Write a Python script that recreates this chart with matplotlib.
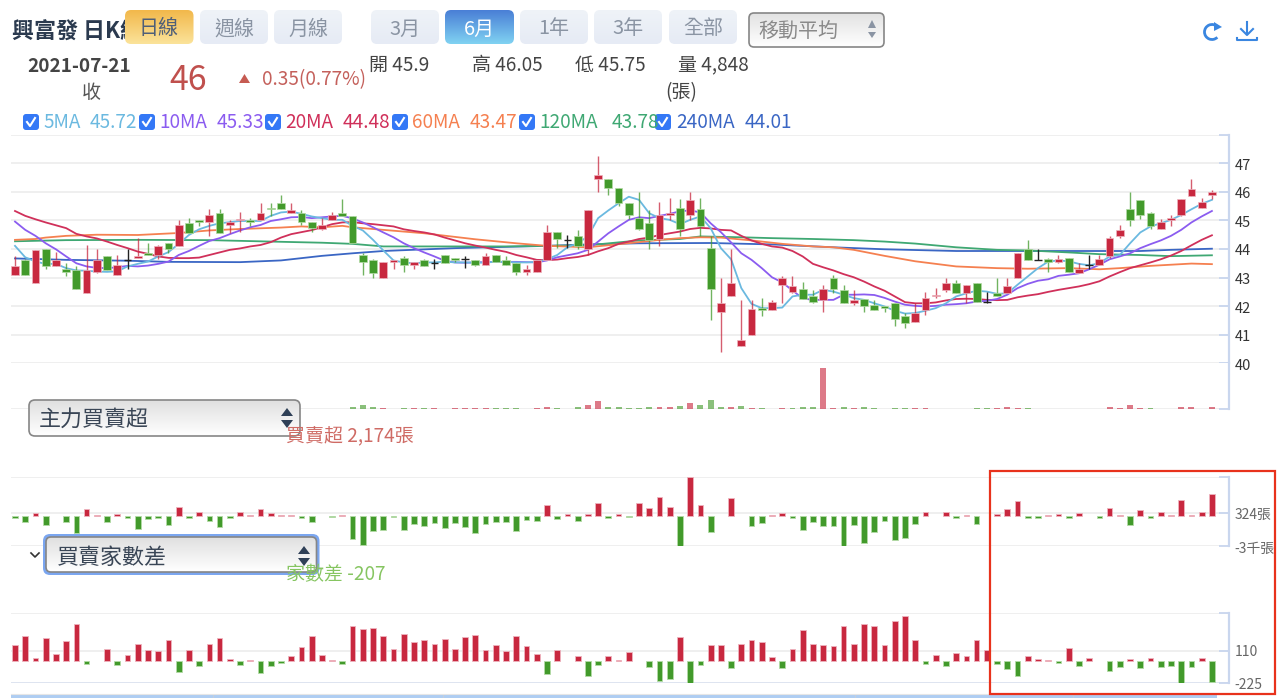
import numpy as np
import matplotlib
matplotlib.use('Agg')
import matplotlib.pyplot as plt
from matplotlib.colors import LinearSegmentedColormap
from matplotlib.patches import FancyBboxPatch, Polygon, Rectangle, Arc
from matplotlib.transforms import ScaledTranslation

plt.rcParams['font.family'] = ['Noto Sans CJK TC', 'DejaVu Sans']

# daily prices, one entry per trading day
opens = [43.1, 43.6, 42.8, 44.0, 43.4, 43.3, 43.25, 42.45, 43.2, 43.75,
         43.1, 43.6, 43.7, 43.85, 43.8, 44.2, 44.1, 44.9, 45.0, 44.95,
         45.25, 44.85, 45.0, 45.0, 45.0, 45.45, 45.6, 45.25, 45.25, 44.95,
         44.7, 45.0, 45.25, 45.15, 43.8, 43.6, 43.0, 43.55, 43.7, 43.45,
         43.6, 43.5, 43.8, 43.7, 43.65, 43.6, 43.45, 43.8, 43.6, 43.5,
         43.2, 43.2, 43.6, 44.6, 44.3, 44.45, 44.0, 46.45, 46.45, 46.15,
         45.6, 45.1, 44.9, 44.35, 45.2, 45.45, 45.2, 45.4, 44.05, 41.8,
         42.35, 40.6, 41.0, 41.95, 41.85, 42.75, 42.5, 42.6, 42.35, 42.2,
         43.0, 42.55, 42.1, 42.25, 42.05, 42.0, 42.1, 41.65, 41.45, 41.85,
         42.35, 42.55, 42.8, 42.45, 42.8, 42.15, 42.45, 42.45, 43.0, 44.0,
         43.6, 43.65, 43.55, 43.7, 43.15, 43.45, 43.45, 43.75, 44.45, 45.4,
         45.7, 45.25, 44.7, 45.0, 45.2, 45.85, 45.45, 45.9]
highs = [43.75, 43.65, 43.95, 44.0, 43.9, 43.5, 43.4, 44.15, 44.0, 43.75,
         43.8, 44.0, 44.4, 44.2, 44.15, 44.2, 45.0, 45.1, 45.0, 45.4,
         45.4, 45.0, 45.3, 45.1, 45.6, 45.6, 45.9, 45.6, 45.35, 44.95,
         45.1, 45.3, 45.75, 45.15, 43.85, 43.65, 43.55, 43.6, 43.75, 43.55,
         43.65, 43.65, 43.8, 43.7, 43.75, 43.6, 43.85, 43.8, 43.75, 43.5,
         43.45, 43.6, 44.85, 44.6, 44.5, 44.65, 45.35, 47.25, 46.45, 46.15,
         45.6, 46.0, 45.35, 45.65, 45.8, 45.75, 46.0, 45.8, 44.45, 43.0,
         44.0, 42.2, 42.2, 42.3, 42.2, 43.05, 43.05, 42.85, 42.55, 42.75,
         43.1, 42.75, 42.55, 42.25, 42.2, 42.0, 42.1, 41.75, 42.1, 42.5,
         42.65, 43.0, 42.9, 42.75, 42.8, 42.5, 43.0, 43.0, 43.85, 44.3,
         44.0, 43.7, 43.8, 43.7, 43.5, 43.8, 43.8, 44.45, 44.85, 46.0,
         45.7, 45.3, 45.05, 45.2, 45.75, 46.45, 45.8, 46.05]
lows = [43.1, 43.1, 42.8, 43.3, 43.4, 43.05, 42.6, 42.45, 43.15, 43.25,
        43.1, 43.3, 43.7, 43.8, 43.65, 43.85, 44.1, 44.55, 44.8, 44.45,
        44.55, 44.55, 44.6, 44.8, 45.0, 45.15, 45.4, 45.25, 44.85, 44.6,
        44.65, 45.0, 45.15, 44.2, 43.1, 43.0, 43.0, 43.3, 43.2, 43.3,
        43.4, 43.3, 43.5, 43.55, 43.35, 43.4, 43.45, 43.55, 43.45, 43.1,
        43.1, 43.2, 43.6, 44.05, 44.05, 44.0, 43.8, 46.0, 45.9, 45.5,
        45.05, 44.65, 44.0, 44.1, 45.0, 44.45, 45.0, 44.45, 41.5, 40.4,
        42.35, 40.6, 41.0, 41.65, 41.85, 42.1, 42.45, 42.25, 42.1, 41.8,
        42.45, 42.1, 42.05, 41.8, 41.85, 41.8, 41.3, 41.25, 41.45, 41.7,
        42.3, 42.5, 42.45, 42.1, 42.15, 42.1, 42.35, 42.45, 43.0, 43.6,
        43.6, 43.2, 43.5, 43.2, 43.15, 43.3, 43.45, 43.7, 44.4, 44.8,
        45.05, 44.7, 44.7, 44.8, 45.15, 45.85, 45.45, 45.75]
closes = [43.4, 43.1, 43.95, 43.4, 43.6, 43.2, 42.6, 43.25, 43.6, 43.25,
          43.45, 43.6, 43.75, 43.8, 44.1, 44.0, 44.85, 44.55, 44.95, 45.2,
          44.55, 44.95, 45.05, 44.95, 45.25, 45.4, 45.4, 45.35, 44.95, 44.75,
          44.85, 45.2, 45.15, 44.2, 43.55, 43.15, 43.55, 43.6, 43.45, 43.55,
          43.4, 43.5, 43.5, 43.6, 43.65, 43.45, 43.75, 43.55, 43.45, 43.2,
          43.3, 43.6, 44.6, 44.35, 44.3, 44.1, 45.35, 46.6, 46.15, 45.6,
          45.2, 44.7, 44.3, 45.2, 45.25, 44.7, 45.7, 44.8, 42.6, 42.1,
          42.8, 40.8, 41.9, 41.85, 42.15, 43.0, 42.7, 42.25, 42.15, 42.6,
          42.6, 42.1, 42.2, 42.0, 41.85, 41.95, 41.55, 41.4, 41.75, 42.3,
          42.4, 42.8, 42.45, 42.75, 42.15, 42.15, 42.35, 42.7, 43.85, 43.6,
          43.6, 43.55, 43.65, 43.2, 43.3, 43.45, 43.65, 44.4, 44.65, 45.0,
          45.2, 44.8, 44.95, 45.1, 45.75, 46.1, 45.65, 46.0]

ma5 = [44.11, 43.71, 43.56, 43.48, 43.48, 43.33, 43.25, 43.24, 43.21, 43.20,
       43.22, 43.39, 43.48, 43.56, 43.74, 43.89, 44.18, 44.49, 44.69, 44.81,
       44.90, 44.94, 44.98, 44.98, 44.98, 45.16, 45.28, 45.31, 45.23, 45.14,
       45.08, 45.02, 45.02, 44.81, 44.65, 44.32, 43.95, 43.60, 43.53, 43.50,
       43.53, 43.53, 43.56, 43.53, 43.53, 43.52, 43.53, 43.55, 43.55, 43.53,
       43.53, 43.55, 43.64, 43.79, 44.06, 44.20, 44.44, 45.08, 45.35, 45.60,
       45.83, 45.72, 45.25, 45.08, 45.02, 44.87, 45.02, 45.14, 44.73, 44.03,
       43.64, 42.63, 42.08, 41.93, 41.93, 41.95, 42.34, 42.40, 42.40, 42.57,
       42.51, 42.40, 42.28, 42.22, 42.10, 41.99, 41.84, 41.74, 41.76, 41.84,
       41.93, 42.10, 42.34, 42.45, 42.54, 42.51, 42.43, 42.45, 42.75, 43.04,
       43.33, 43.56, 43.60, 43.57, 43.48, 43.43, 43.50, 43.74, 43.79, 44.20,
       44.58, 44.79, 44.90, 45.02, 45.19, 45.39, 45.58, 45.72]
ma10 = [44.96, 44.67, 44.46, 44.20, 43.99, 43.74, 43.50, 43.39, 43.34, 43.33,
        43.36, 43.41, 43.39, 43.42, 43.48, 43.56, 43.79, 43.93, 44.11, 44.28,
        44.38, 44.52, 44.65, 44.76, 44.84, 44.98, 45.04, 45.11, 45.12, 45.08,
        45.11, 45.14, 45.16, 45.07, 44.93, 44.76, 44.58, 44.41, 44.20, 44.03,
        43.88, 43.74, 43.59, 43.53, 43.52, 43.53, 43.54, 43.55, 43.55, 43.55,
        43.54, 43.53, 43.60, 43.71, 43.78, 43.85, 43.97, 44.26, 44.55, 44.79,
        45.02, 45.11, 45.08, 45.16, 45.23, 45.32, 45.35, 45.28, 44.90, 44.59,
        44.23, 43.85, 43.62, 43.33, 43.01, 42.83, 42.55, 42.27, 42.22, 42.22,
        42.22, 42.40, 42.40, 42.41, 42.39, 42.29, 42.16, 42.05, 42.01, 41.99,
        42.01, 42.05, 42.07, 42.10, 42.16, 42.19, 42.25, 42.40, 42.63, 42.78,
        42.89, 42.94, 43.06, 43.10, 43.15, 43.29, 43.45, 43.64, 43.74, 43.85,
        44.03, 44.17, 44.30, 44.46, 44.67, 44.93, 45.14, 45.33]
ma20 = [45.33, 45.16, 45.04, 44.93, 44.83, 44.73, 44.53, 44.44, 44.37, 44.26,
        44.14, 44.03, 43.91, 43.83, 43.74, 43.69, 43.68, 43.68, 43.70, 43.79,
        43.88, 43.97, 44.02, 44.09, 44.14, 44.24, 44.40, 44.52, 44.59, 44.66,
        44.76, 44.87, 44.93, 44.94, 44.90, 44.87, 44.83, 44.79, 44.69, 44.63,
        44.58, 44.51, 44.40, 44.30, 44.20, 44.12, 44.05, 43.97, 43.90, 43.79,
        43.71, 43.62, 43.61, 43.63, 43.68, 43.72, 43.79, 43.92, 44.03, 44.18,
        44.26, 44.35, 44.40, 44.49, 44.55, 44.61, 44.70, 44.74, 44.72, 44.67,
        44.65, 44.46, 44.30, 44.18, 44.09, 44.05, 43.93, 43.74, 43.48, 43.36,
        43.25, 43.12, 43.01, 42.86, 42.69, 42.54, 42.34, 42.14, 42.10, 42.10,
        42.13, 42.20, 42.25, 42.26, 42.25, 42.22, 42.21, 42.22, 42.31, 42.37,
        42.42, 42.50, 42.57, 42.63, 42.69, 42.77, 42.87, 43.04, 43.19, 43.33,
        43.43, 43.53, 43.64, 43.77, 43.93, 44.13, 44.32, 44.48]
# the slow averages barely bend, so they are kept at their turning days only
ma60_days = [1, 3, 4, 6, 9, 13, 17, 20, 23, 27, 29, 31, 33, 34, 37, 41, 46, 50,
             53, 57, 62, 64, 66, 68, 70, 73, 76, 79, 81, 83, 86, 89, 93, 97,
             100, 104, 107, 109, 112, 116, 118]
ma60 = [44.32, 44.35, 44.40, 44.46, 44.50, 44.49, 44.56, 44.65, 44.70, 44.75, 44.79,
        44.76, 44.81, 44.76, 44.67, 44.55, 44.34, 44.20, 44.11, 44.06, 44.24,
        44.32, 44.38, 44.41, 44.40, 44.30, 44.18, 44.09, 44.06, 43.97, 43.76,
        43.57, 43.39, 43.33, 43.31, 43.33, 43.29, 43.33, 43.41, 43.49, 43.47]
ma120_days = [1, 6, 13, 20, 26, 31, 34, 37, 44, 49, 53, 57, 62, 66, 68, 72, 75,
              79, 83, 86, 89, 93, 97, 100, 104, 107, 111, 114, 118]
ma120 = [44.27, 44.31, 44.32, 44.31, 44.26, 44.22, 44.18, 44.09, 44.09, 44.09,
         44.11, 44.13, 44.30, 44.35, 44.44, 44.41, 44.38, 44.35, 44.31, 44.26,
         44.19, 44.06, 43.97, 43.95, 43.88, 43.82, 43.79, 43.75, 43.78]
ma240_days = [1, 6, 12, 16, 23, 27, 31, 34, 37, 44, 53, 57, 62, 69, 75, 81, 86,
              93, 101, 107, 111, 114, 118]
ma240 = [43.67, 43.62, 43.59, 43.55, 43.54, 43.60, 43.76, 43.85, 43.93, 44.03,
         44.11, 44.16, 44.20, 44.21, 44.16, 44.06, 43.99, 43.93, 43.93, 43.93,
         43.93, 43.97, 44.01]

# volume in lots, split by bar colour
vol_up_days = [37, 40, 42, 44, 45, 46, 47, 52, 53, 57, 58, 64, 65, 67, 71, 73, 76,
               80, 81, 83, 89, 90, 97, 98, 99, 108, 109, 110, 111, 115, 116, 118]
vol_up = [3000, 3000, 3000, 3000, 3000, 3000, 3000, 3000, 6000, 12000, 24000, 6000,
          6000, 18000, 6000, 3000, 3000, 123000, 3000, 3000, 3000, 3000, 3000, 6000,
          3000, 6000, 3000, 13000, 3000, 6000, 6000, 4848]
vol_down_days = [34, 35, 36, 39, 41, 48, 49, 50, 54, 56, 59, 60, 61, 62, 63, 66, 68,
                 69, 70, 72, 74, 77, 78, 79, 82, 84, 85, 87, 88, 95, 96, 100, 112]
vol_down = [5000, 12000, 5000, 3000, 3000, 3000, 3000, 3000, 3000, 5000, 5000, 5000,
            4000, 3000, 6000, 9000, 11000, 28000, 7000, 9000, 2000, 3000, 6000, 6000,
            6000, 6000, 2000, 3000, 3000, 3000, 2000, 3000, 2000]

main_force = [-170, -570, 300, -930, 0, -600, -1730, 670, 100, -600,
              200, -200, -1270, -330, -230, -930, 900, -230, 430, -470,
              -1070, -230, 430, 100, 670, 300, 100, 100, -170, -600,
              0, -130, 100, -2300, -2900, -1530, -1400, -130, -1400, -800,
              -970, -700, -1170, -700, -1070, -1730, -800, -600, -600, -1530,
              -370, -470, 1100, -330, 200, -470, 200, 1330, -200, 200,
              -130, 1330, 800, 1900, 900, -3000, 3870, 1100, -1630, 0,
              1770, 0, -1030, -700, 100, 300, -230, -1400, -570, -1030,
              -1030, -3000, -900, -2730, -1600, -470, -2400, -2170, -800, 430,
              0, 430, -230, 100, -800, 0, 200, 670, 1470, -230,
              -230, 100, 200, -230, 300, 0, -230, 800, 100, -930,
              570, -170, 430, 100, 1570, 100, 430, 2174]
broker_diff = [168, 257, 33, 238, 79, 211, 383, -23, 0, 122,
               -36, 66, 178, 112, 102, 215, -106, 112, -46, 178,
               238, 23, -36, 13, -115, -46, -16, 56, 145, 257,
               66, 13, -23, 360, 327, 337, 257, 122, 280, 201,
               215, 178, 224, 122, 248, 271, 112, 168, 102, 257,
               155, 79, -125, 112, 0, 56, -148, -36, 56, 13,
               99, 0, -56, -205, -182, 248, -218, -36, 168, 168,
               -69, 178, 215, 201, 43, -69, 122, 317, 178, 168,
               155, 360, 178, 383, 360, 168, 416, 462, 215, -23,
               66, -46, 89, 56, 215, 112, -23, -79, -148, 56,
               23, 13, -16, 135, -46, 33, 0, -102, -56, 23,
               -69, 33, -56, -46, -218, -56, 33, -207]

price_ticks = [40, 41, 42, 43, 44, 45, 46, 47, 48]

W, H = 1279, 698
RED = '#c8283f'
RED_EDGE = '#eeb4bf'
GREEN = '#429a2b'
GREEN_EDGE = '#b4dba6'
GRID = '#ebebeb'
AXIS = '#c9d6ee'
STEP = 10.23
LEFT, RIGHT = 11, 1229
XLIM = ((LEFT - 15) / STEP, (RIGHT - 15) / STEP)

fig = plt.figure(figsize=(W / 100, H / 100), dpi=100)


def panel(top, bottom):
    ax = fig.add_axes([LEFT / W, 1 - bottom / H, (RIGHT - LEFT) / W, (bottom - top) / H])
    ax.set_xlim(*XLIM)
    ax.set_xticks([])
    for side in ['top', 'left', 'bottom']:
        ax.spines[side].set_visible(False)
    ax.spines['right'].set_color(AXIS)
    ax.spines['right'].set_linewidth(1.6)
    ax.yaxis.tick_right()
    ax.tick_params(axis='y', direction='in', length=7, width=1.3, color=AXIS, pad=4, labelsize=10,
                   labelcolor='#666666')
    ax.grid(axis='y', color=GRID, linewidth=1.1)
    ax.set_axisbelow(True)
    return ax


def nudge_labels(ax):
    # tick text sits a pixel below its tick
    shift = ScaledTranslation(0, -1 / 100, fig.dpi_scale_trans)
    for text in ax.get_yticklabels():
        text.set_transform(text.get_transform() + shift)


# candlesticks and moving averages
ax_price = panel(134.7, 363.3)
ax_price.set_ylim(40, 48)
ax_price.set_yticks(price_ticks)
ax_price.set_yticklabels([str(t) if t < 48 else '' for t in price_ticks], color='#333333', fontsize=10.5)
nudge_labels(ax_price)

days = np.arange(len(opens))
ax_price.plot(days, np.interp(days, np.array(ma240_days) - 1, ma240), color='#3a66c4', lw=1.3, zorder=2)
ax_price.plot(days, np.interp(days, np.array(ma120_days) - 1, ma120), color='#3fa873', lw=1.3, zorder=2)
ax_price.plot(days, np.interp(days, np.array(ma60_days) - 1, ma60), color='#f58050', lw=1.3, zorder=2)
ax_price.plot(days, ma20, color='#d0305a', lw=1.3, zorder=2)
ax_price.plot(days, ma10, color='#8b5cf0', lw=1.3, zorder=2)
ax_price.plot(days, ma5, color='#6bb9e0', lw=1.3, zorder=2)

for i in days:
    o, h, l, c = opens[i], highs[i], lows[i], closes[i]
    if o == c:
        ax_price.vlines(i, l, h, color='#222222', lw=1, zorder=3)
        ax_price.hlines(o, i - 0.36, i + 0.36, color='#222222', lw=1, zorder=3)
        continue
    col, edge = (RED, RED_EDGE) if c > o else (GREEN, GREEN_EDGE)
    ax_price.vlines(i, l, h, color=col, lw=1, alpha=0.75, zorder=3)
    ax_price.bar(i, abs(c - o), bottom=min(o, c), width=0.76, color=col, edgecolor=edge, linewidth=0.5, zorder=4)

# volume
ax_vol = panel(363.3, 409)
ax_vol.set_ylim(0, 138000)
ax_vol.set_yticks([0])
ax_vol.set_yticklabels([''])
ax_vol.bar(np.array(vol_up_days) - 1, vol_up, width=0.58, color=RED, alpha=0.62, zorder=3)
ax_vol.bar(np.array(vol_down_days) - 1, vol_down, width=0.58, color=GREEN, alpha=0.62, zorder=3)

# main force net buying
ax_force = panel(477, 546)
ax_force.set_ylim(-3000, 3900)
ax_force.set_yticks([-3000, 324, 3900])
ax_force.set_yticklabels(['-3千張', '324張', ''])
nudge_labels(ax_force)
force = np.array(main_force)
ax_force.bar(days[force > 0], force[force > 0], width=0.56, color=RED, edgecolor=RED_EDGE, linewidth=0.6, zorder=3)
ax_force.bar(days[force < 0], force[force < 0], width=0.56, color=GREEN, edgecolor=GREEN_EDGE, linewidth=0.6, zorder=3)

# broker count difference
ax_diff = panel(613.3, 683.3)
ax_diff.set_ylim(-225, 490)
ax_diff.set_yticks([-225, 110, 490])
ax_diff.set_yticklabels(['-225', '110', ''])
ax_diff.get_ygridlines()[0].set_color('#d5dcec')
diff = np.array(broker_diff)
ax_diff.bar(days[diff > 0], diff[diff > 0], width=0.56, color=RED, edgecolor=RED_EDGE, linewidth=0.6, zorder=3)
ax_diff.bar(days[diff < 0], diff[diff < 0], width=0.56, color=GREEN, edgecolor=GREEN_EDGE, linewidth=0.6, zorder=3)

# page controls are laid out in pixels on a transparent top layer
ui = fig.add_axes([0, 0, 1, 1], zorder=10)
ui.patch.set_alpha(0)
ui.axis('off')


def label(x, y, s, size, color, weight='normal', ha='left', z=6):
    ui.text(x, y + 2, s, fontsize=size * 0.72, color=color, fontweight=weight, ha=ha, va='center', zorder=z)


def box(x0, y0, x1, y1, top, bottom, radius=5, edge='none', lw=0, z=3):
    cmap = LinearSegmentedColormap.from_list('box', [top, bottom])
    patch = FancyBboxPatch((x0 + radius, y0 + radius), x1 - x0 - 2 * radius, y1 - y0 - 2 * radius,
                           boxstyle='round,pad=%f' % radius, facecolor='none', edgecolor=edge,
                           linewidth=lw, zorder=z + 0.5)
    ui.add_patch(patch)
    im = ui.imshow(np.linspace(0, 1, 64)[:, None], cmap=cmap, extent=(x0, x1, y1, y0), aspect='auto', zorder=z)
    im.set_clip_path(patch)


def updown(x, up0, up1, down0, down1, half, color):
    ui.add_patch(Polygon([(x - half, up1), (x + half, up1), (x, up0)], color=color, zorder=6, lw=0))
    ui.add_patch(Polygon([(x - half, down0), (x + half, down0), (x, down1)], color=color, zorder=6, lw=0))


label(12, 30, '興富發 日K線', 22, '#2b3a4f', weight='bold', z=2)

box(125, 10, 193.5, 44, '#f2b84b', '#fbe39a', radius=6)
label(159, 27, '日線', 20, '#4f5f78', ha='center')
for x0, text in [(200, '週線'), (274, '月線'), (371, '3月'), (520, '1年'), (594, '3年'), (669, '全部')]:
    box(x0, 10, x0 + 68, 44, '#eff3f8', '#e6ebf5', radius=6)
    label(x0 + 34, 27, text, 20, '#8a94a3', ha='center')
box(445, 10, 514, 44, '#4a7fd6', '#80d2f2', radius=6)
label(479.5, 27, '6月', 20, '#ffffff', ha='center')

box(749, 13, 884, 47, '#e2e2e2', '#ffffff', radius=5, edge='#868686', lw=1.2)
label(758, 29, '移動平均', 20, '#8a8a8a')
updown(872, 20, 28, 32, 38, 4, '#8a94a3')

# reload and download icons
ui.add_patch(Arc((1212, 32), 15, 15, theta1=45, theta2=315, color='#3a86e0', lw=2, zorder=6))
ui.add_patch(Polygon([(1214, 22), (1222, 27), (1214, 31)], color='#3a86e0', lw=0, zorder=6))
ui.plot([1247, 1247], [22, 34], color='#3a86e0', lw=1.5, zorder=6)
ui.plot([1241, 1247, 1253], [29, 35, 29], color='#3a86e0', lw=1.5, zorder=6)
ui.plot([1237, 1237, 1257, 1257], [38, 40, 40, 38], color='#3a86e0', lw=1.5, zorder=6)

label(27, 64, '2021-07-21', 19, '#444444', weight='bold')
label(91, 91, '收', 19, '#555555', ha='center')
label(169, 79, '46', 34, '#c0504d')
ui.add_patch(Polygon([(239, 83), (250, 83), (244.5, 74)], color='#c65b52', lw=0, zorder=6))
label(262, 78, '0.35(0.77%)', 19, '#c4605b')
for x0, text in [(369, '開 45.9'), (472, '高 46.05'), (575, '低 45.75'), (678, '量 4,848')]:
    label(x0, 63, text, 19, '#444444')
label(665, 91, '(張)', 19, '#444444')

# moving average legend row
legend_row = [(23, 43, 90, '5MA', '45.72', '#6bb9e0'), (139, 159, 217, '10MA', '45.33', '#8b5cf0'),
              (265, 285, 343, '20MA', '44.48', '#d0305a'), (392, 412, 470, '60MA', '43.47', '#f58050'),
              (519, 539, 612, '120MA', '43.78', '#3fa873'), (655, 676, 745, '240MA', '44.01', '#3a66c4')]
for cx, name_x, val_x, name, val, col in legend_row:
    ui.add_patch(FancyBboxPatch((cx + 3, 117), 10, 10, boxstyle='round,pad=3', facecolor='#3478f6',
                                edgecolor='none', zorder=5))
    ui.plot([cx + 4, cx + 7, cx + 12], [122, 126, 118], color='white', lw=1.5, zorder=6)
    label(name_x, 120, name, 19, col)
    label(val_x, 120, val, 19, col)

# indicator dropdowns
box(29, 400, 300, 436, '#e0e0e0', '#ffffff', radius=6, edge='#868686', lw=1.2)
label(39, 417.5, '主力買賣超', 22, '#3a4656')
updown(287, 408, 416, 420, 428, 6, '#2f4057')
label(286, 435, '買賣超 2,174張', 19, '#cf6b65')

box(43, 534, 319.5, 575, '#7ba6f0', '#7ba6f0', radius=7)
box(46, 537, 316.5, 572, '#e0e0e0', '#ffffff', radius=5, edge='#868686', lw=1.2, z=4)
label(57, 555.5, '買賣家數差', 22, '#3a4656')
updown(304, 546, 554, 558, 566, 6, '#2f4057')
label(286, 573, '家數差 -207', 19, '#86c561')
ui.plot([31, 35, 39], [553, 557, 553], color='#333333', lw=1.2, zorder=6)

# range slider strip along the bottom edge
ui.add_patch(Rectangle((11, 695), 1206, 3, color='#aecdf2', lw=0, zorder=5))
ui.plot([11, 1229], [694.3, 694.3], color='#e6e6e6', lw=0.8, zorder=5)
for x0 in [213, 443, 855, 1073]:
    ui.plot([x0, x0], [695, 698], color='#c4cfdd', lw=0.7, zorder=5)

ui.add_patch(Rectangle((990, 471), 285, 223.3, facecolor='none', edgecolor='#e8321c', lw=1.6, zorder=7))

ui.set_xlim(0, W)
ui.set_ylim(H, 0)

fig.savefig('out.png', dpi=100)
